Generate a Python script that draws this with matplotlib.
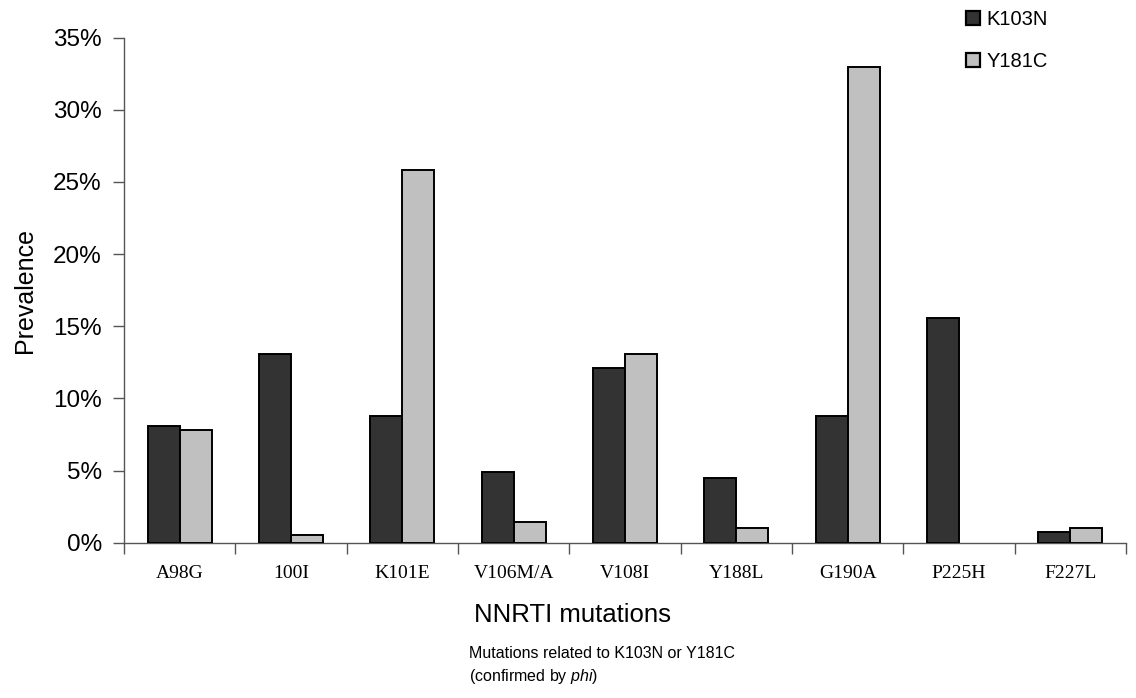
import matplotlib
matplotlib.use("Agg")
import matplotlib.pyplot as plt
from matplotlib.patches import Patch
from matplotlib.ticker import FuncFormatter
import numpy as np

categories = ["A98G", "100I", "K101E", "V106M/A", "V108I", "Y188L", "G190A", "P225H", "F227L"]
k103n = [8.1, 13.1, 8.8, 4.9, 12.1, 4.5, 8.8, 15.6, 0.75]
y181c = [7.8, 0.5, 25.8, 1.45, 13.1, 1.0, 33.0, 0.0, 1.0]
series_names = ["K103N", "Y181C"]
yticks = [0, 5, 10, 15, 20, 25, 30, 35]

plt.rcParams['font.family'] = ['Liberation Sans', 'DejaVu Sans']
plt.rcParams['mathtext.fontset'] = 'custom'
plt.rcParams['mathtext.it'] = 'Liberation Sans:italic'
plt.rcParams['mathtext.rm'] = 'Liberation Sans'

fig = plt.figure(figsize=(11.36, 6.98), dpi=100)
ax = fig.add_axes([124/1136, 1-542.7/698, (1126-124)/1136, (542.7-37.7)/698])

x = np.arange(len(categories)) + 0.5
w = 0.286
dark = "#333333"
light = "#c0c0c0"
ax.bar(x - w/2, k103n, width=w, color=dark, edgecolor="black",
       linewidth=[1.4 if v > 0 else 0 for v in k103n], zorder=3)
ax.bar(x + w/2, y181c, width=w, color=light, edgecolor="black",
       linewidth=[1.4 if v > 0 else 0 for v in y181c], zorder=3)

ax.set_xlim(0, len(categories))
ax.set_ylim(0, 35)
ax.set_yticks(yticks)
ax.yaxis.set_major_formatter(FuncFormatter(lambda v, p: f"{int(v)}%"))
ax.tick_params(axis='y', labelsize=17.5, length=8, width=1, color="#555555", pad=8)

ax.set_xticks(np.arange(len(categories) + 1))
ax.set_xticklabels([])
ax.set_xticks(x, minor=True)
ax.set_xticklabels(categories, minor=True, fontfamily='Liberation Serif', fontsize=14)
ax.tick_params(axis='x', which='major', length=8, width=1, color="#555555", direction='out')
ax.tick_params(axis='x', which='minor', length=0, pad=16)

for s in ['top', 'right']:
    ax.spines[s].set_visible(False)
for s in ['left', 'bottom']:
    ax.spines[s].set_color("#555555")
    ax.spines[s].set_linewidth(1)

fig.text(25/1136, 1-290/698, "Prevalence", fontsize=18, rotation=90, ha='center', va='center')
fig.text(572/1136, 1-622/698, "NNRTI mutations", fontsize=18.5, ha='center', va='baseline')
fig.text(469/1136, 1-654/698, "Mutations related to K103N or Y181C", fontsize=11.5, ha='left', va='center')
fig.text(469/1136, 1-677/698, r"(confirmed by $\it{phi}$)", fontsize=11.5, ha='left', va='center')

handles = [Patch(facecolor=dark, edgecolor='black', linewidth=1.6),
           Patch(facecolor=light, edgecolor='black', linewidth=1.6)]
fig.legend(handles, series_names, loc='upper left', bbox_to_anchor=(966/1136, 1-10/698),
           frameon=False, fontsize=14.5, handlelength=0.7, handleheight=0.7,
           handletextpad=0.3, labelspacing=1.15, borderpad=0, borderaxespad=0)

fig.savefig("out.png", dpi=100)
